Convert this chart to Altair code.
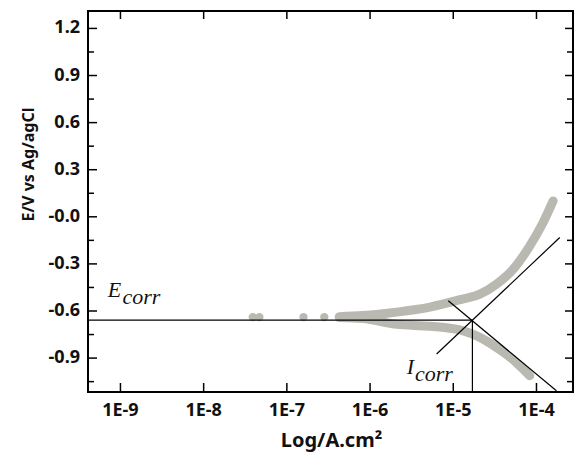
import altair as alt
import pandas as pd

# ---- data ----
x_ticks = [-9, -8, -7, -6, -5, -4]
x_labels = ["1E-9", "1E-8", "1E-7", "1E-6", "1E-5", "1E-4"]
y_major = [-0.9, -0.6, -0.3, 0.0, 0.3, 0.6, 0.9, 1.2]
y_labels = ["-0.9", "-0.6", "-0.3", "-0.0", "0.3", "0.6", "0.9", "1.2"]
y_minor = [-1.05, -0.75, -0.45, -0.15, 0.15, 0.45, 0.75, 1.05]

dots_logI = [-7.41, -7.33, -6.80, -6.55]
dots_E = [-0.639, -0.639, -0.639, -0.639]

anodic_logI = [-6.37, -6.09, -5.68, -5.28, -4.89, -4.68, -4.48, -4.28, -4.08, -3.92, -3.80]
anodic_E = [-0.636, -0.629, -0.607, -0.575, -0.524, -0.493, -0.429, -0.334, -0.185, -0.036, 0.101]

cathodic_logI = [-6.37, -6.09, -5.68, -5.28, -4.89, -4.68, -4.48, -4.29, -4.14, -4.08]
cathodic_E = [-0.642, -0.648, -0.685, -0.697, -0.725, -0.768, -0.832, -0.906, -0.981, -1.012]

ecorr_logI = [-9.39, -4.77]
ecorr_E = [-0.658, -0.658]
icorr_logI = [-4.77, -4.77]
icorr_E = [-0.658, -1.116]
anodic_tafel_logI = [-5.20, -3.72]
anodic_tafel_E = [-0.874, -0.132]
cathodic_tafel_logI = [-5.06, -3.76]
cathodic_tafel_E = [-0.535, -1.108]

labels_text = ["E", "corr", "I", "corr"]
labels_logI = [-9.153, -8.975, -5.56, -5.46]
labels_E = [-0.512, -0.556, -1.002, -1.043]

x_title = "Log/A.cm²"
y_title = "E/V vs Ag/agCl"

# ---- layout ----
W, H = 485, 381
X0, X1 = -9.39, -3.561
Y0, Y1 = -1.116, 1.311
xs = alt.Scale(domain=[X0, X1], nice=False, zero=False)
ys = alt.Scale(domain=[Y0, Y1], nice=False, zero=False)
EX = (X1 - X0) / W   # data units per pixel
EY = (Y1 - Y0) / H
FONT = "Noto Sans"
GRAY = "#b9b9b1"
INK = "#111111"


def X(f="logI"):
    return alt.X(f + ":Q", scale=xs, axis=None)


def Y(f="E"):
    return alt.Y(f + ":Q", scale=ys, axis=None)


dots = alt.Chart(pd.DataFrame({"logI": dots_logI, "E": dots_E})).mark_circle(
    size=70, color=GRAY, opacity=1
).encode(x=X(), y=Y())

anodic = alt.Chart(pd.DataFrame({"logI": anodic_logI, "E": anodic_E})).mark_line(
    color=GRAY, strokeWidth=9, strokeCap="round", interpolate="monotone"
).encode(x=X(), y=Y())

cathodic = alt.Chart(pd.DataFrame({"logI": cathodic_logI, "E": cathodic_E})).mark_line(
    color=GRAY, strokeWidth=9, strokeCap="round", interpolate="monotone"
).encode(x=X(), y=Y())


def seg(lx, le):
    df = pd.DataFrame({"logI": lx, "E": le})
    return alt.Chart(df).mark_line(color="black", strokeWidth=1.2).encode(x=X(), y=Y())


lines = [
    seg(ecorr_logI, ecorr_E),
    seg(icorr_logI, icorr_E),
    seg(anodic_tafel_logI, anodic_tafel_E),
    seg(cathodic_tafel_logI, cathodic_tafel_E),
]

labels = alt.Chart(
    pd.DataFrame({"logI": labels_logI, "E": labels_E, "t": labels_text})
).mark_text(
    font="Liberation Serif", fontStyle="italic", fontSize=22, align="left",
    baseline="alphabetic", color=INK
).encode(x=X(), y=Y(), text="t:N")

# frame (plot box) drawn as a closed line on the domain corners
frame_df = pd.DataFrame({
    "logI": [X0, X1, X1, X0, X0],
    "E": [Y0, Y0, Y1, Y1, Y0],
    "o": [0, 1, 2, 3, 4],
})
frame = alt.Chart(frame_df).mark_line(
    color="black", strokeWidth=2, strokeJoin="miter"
).encode(x=X(), y=Y(), order="o:Q")

# inward tick segments, built from the tick arrays
rows = []
k = 0
for v in x_ticks:
    for (a, b) in [((v, Y0), (v, Y0 + 9 * EY)), ((v, Y1), (v, Y1 - 8 * EY))]:
        rows += [{"logI": a[0], "E": a[1], "k": k, "o": 0},
                 {"logI": b[0], "E": b[1], "k": k, "o": 1}]
        k += 1
for vals, ln in [(y_major, 9), (y_minor, 6)]:
    for v in vals:
        for (a, b) in [((X0, v), (X0 + ln * EX, v)),
                       ((X1, v), (X1 - min(ln, 8) * EX, v))]:
            rows += [{"logI": a[0], "E": a[1], "k": k, "o": 0},
                     {"logI": b[0], "E": b[1], "k": k, "o": 1}]
            k += 1
ticks = alt.Chart(pd.DataFrame(rows)).mark_line(
    color="black", strokeWidth=1.5
).encode(x=X(), y=Y(), detail="k:N", order="o:Q")

# tick labels and axis titles
xt = pd.DataFrame({"tx": x_ticks, "lab": x_labels})
ymaj = pd.DataFrame({"ty": y_major, "lab": y_labels})

x_lab = alt.Chart(xt).mark_text(
    font=FONT, fontWeight="bold", fontSize=18, color=INK, align="center",
    baseline="alphabetic"
).encode(x=X("tx"), y=alt.value(H + 24), text="lab:N")

y_lab = alt.Chart(ymaj).mark_text(
    font=FONT, fontWeight="bold", fontSize=18, color=INK, align="right",
    baseline="middle"
).encode(y=Y("ty"), x=alt.value(-8), text="lab:N")

x_ttl = alt.Chart(pd.DataFrame({"t": [x_title]})).mark_text(
    font=FONT, fontWeight="bold", fontSize=20, color=INK, align="center",
    baseline="alphabetic"
).encode(x=alt.value(W / 2 + 1), y=alt.value(H + 55), text="t:N")

y_ttl = alt.Chart(pd.DataFrame({"t": [y_title]})).mark_text(
    font=FONT, fontWeight="bold", fontSize=16, color=INK, align="center",
    baseline="alphabetic", angle=270
).encode(x=alt.value(-54), y=alt.value(153.5), text="t:N")

chart = alt.layer(
    dots, anodic, cathodic, *lines, labels, frame, ticks,
    x_lab, y_lab, x_ttl, y_ttl,
).properties(
    width=W, height=H,
    autosize=alt.AutoSizeParams(type="none"),
    padding={"left": 80, "top": 3, "right": 1, "bottom": 62},
).configure_view(
    stroke="black", strokeWidth=2
)

chart.save("out.html", embed_options={"renderer": "svg", "actions": False})
